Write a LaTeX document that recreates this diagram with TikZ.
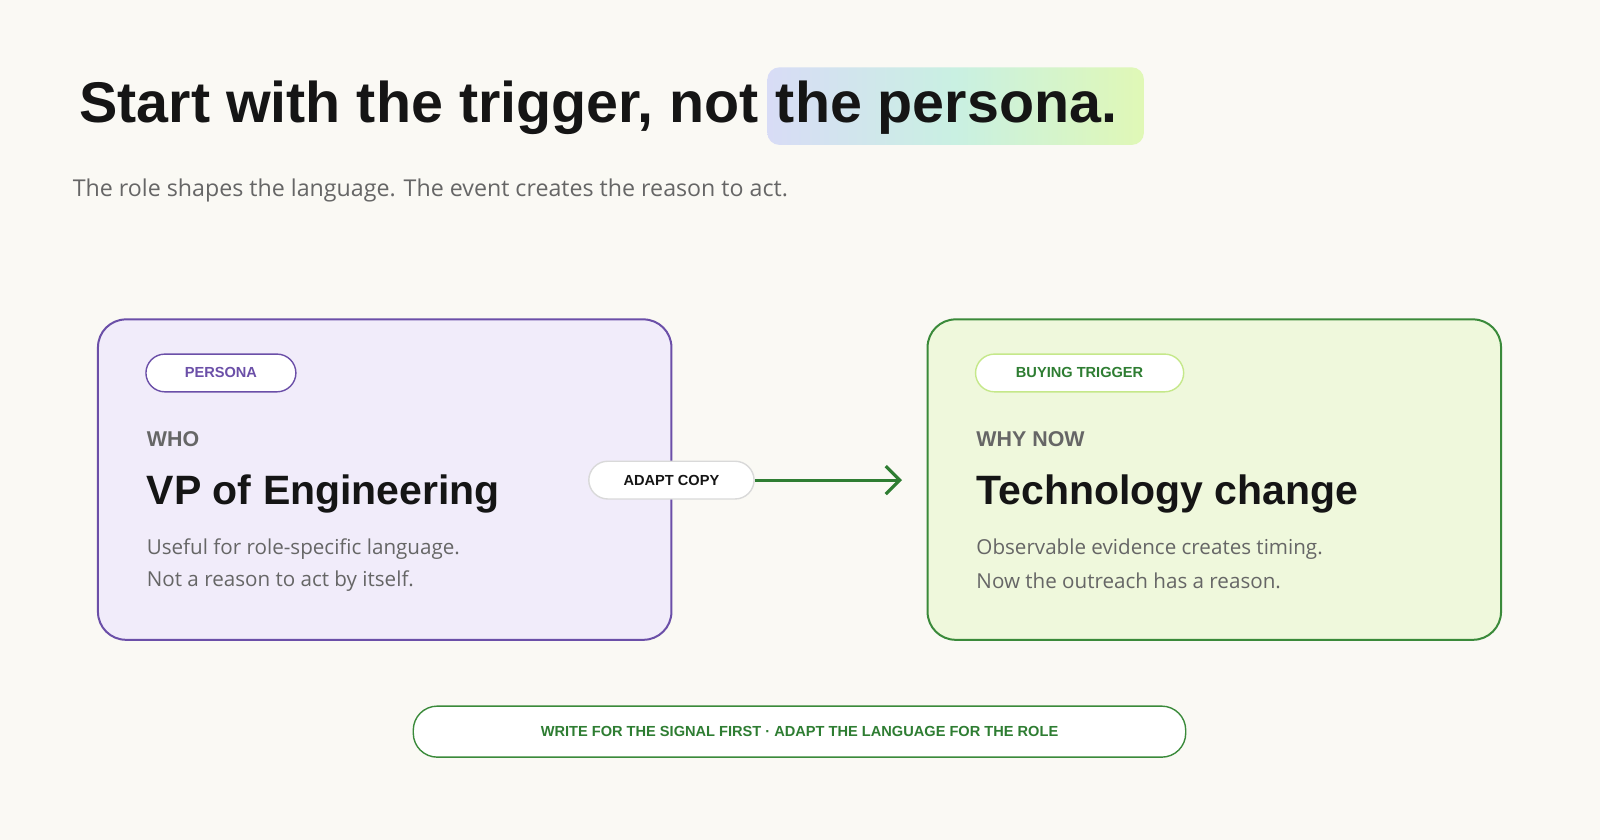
\documentclass[tikz,border=0pt]{standalone}
\usepackage{fontspec}
\setmainfont{Liberation Sans}
\newfontfamily\bodyf{Open Sans}
\usetikzlibrary{arrows.meta}
\definecolor{bg}{HTML}{FAF9F4}
\definecolor{ink}{HTML}{151515}
\definecolor{grayt}{HTML}{666666}
\definecolor{purp}{HTML}{6B4FA8}
\definecolor{purpfill}{HTML}{F1ECFA}
\definecolor{grn}{HTML}{3A8A3A}
\definecolor{grnt}{HTML}{2E7D32}
\definecolor{grnfill}{HTML}{EFF8DC}
\definecolor{lgrn}{HTML}{C5E88A}
\definecolor{hlA}{HTML}{D8DCF6}
\definecolor{hlB}{HTML}{C9F0E2}
\definecolor{hlC}{HTML}{E0F8B6}
\tikzset{
  card/.style={rounded corners=14pt, line width=1pt},
  pill/.style={rounded corners=9.5pt, fill=white, line width=0.7pt, font=\bfseries\fontsize{7.3}{9}\selectfont},
  label/.style={anchor=west, text=grayt, font=\bfseries\fontsize{10.7}{13}\selectfont},
  head/.style={anchor=west, text=ink, font=\bfseries\fontsize{20.5}{24}\selectfont},
  body/.style={anchor=west, text=grayt, font=\bodyf\fontsize{10.3}{12}\selectfont},
  ttl/.style={inner sep=0, text=ink, font=\bfseries\fontsize{28.7}{34}\selectfont},
}
\begin{document}
\begin{tikzpicture}[x=0.5102pt,y=-0.5102pt]
\fill[bg] (0,0) rectangle (1568,823);
\useasboundingbox (0,0) rectangle (1568,823);
% title
\shade[left color=hlA, right color=hlC, middle color=hlB, rounded corners=6pt] (752,66) rectangle (1121,142);
\node[ttl, anchor=base east] (t1) at (744,120) {Start with the trigger, not};
\node[ttl, anchor=base west] (t2) at (760,120) {the persona.};
\node[anchor=west, inner sep=0, text=grayt, font=\bodyf\fontsize{11.6}{14}\selectfont] (sub) at (71,187) {The role shapes the language. The event creates the reason to act.};
% left card
\draw[card, draw=purp, fill=purpfill] (96,313) rectangle (658,627);
\node[pill, draw=purp, text=purp, minimum width=147*0.5102pt, minimum height=37*0.5102pt] (p1) at (216.5,365.5) {PERSONA};
\node[label] (who) at (137,430) {WHO};
\node[head] (vp) at (137,484) {VP of Engineering};
\node[body] (b1) at (137,538) {Useful for role-specific language.};
\node[body] (b2) at (137,569) {Not a reason to act by itself.};
% right card
\draw[card, draw=grn, fill=grnfill] (909,313) rectangle (1471,627);
\node[pill, draw=lgrn, text=grnt, minimum width=204*0.5102pt, minimum height=37*0.5102pt] (p2) at (1058,365.5) {BUYING TRIGGER};
\node[label] (why) at (950,430) {WHY NOW};
\node[head] (tc) at (950,484) {Technology change};
\node[body] (b3) at (950,538) {Observable evidence creates timing.};
\node[body] (b4) at (950,569) {Now the outreach has a reason.};
% connector
\node[pill, draw=black!15, text=ink, minimum width=162*0.5102pt, minimum height=37*0.5102pt] (ac) at (658,470.5) {ADAPT COPY};
\coordinate (end) at (884,470.5);
\draw[grnt, line width=1.6pt, -{Straight Barb[length=7pt,width=14pt,line width=1.6pt]}] (ac.east) -- (end);
% bottom
\node[pill, draw=grn, text=grnt, rounded corners=12pt, minimum width=757*0.5102pt, minimum height=50*0.5102pt] (bot) at (783.5,717) {WRITE FOR THE SIGNAL FIRST · ADAPT THE LANGUAGE FOR THE ROLE};
\end{tikzpicture}
\end{document}
